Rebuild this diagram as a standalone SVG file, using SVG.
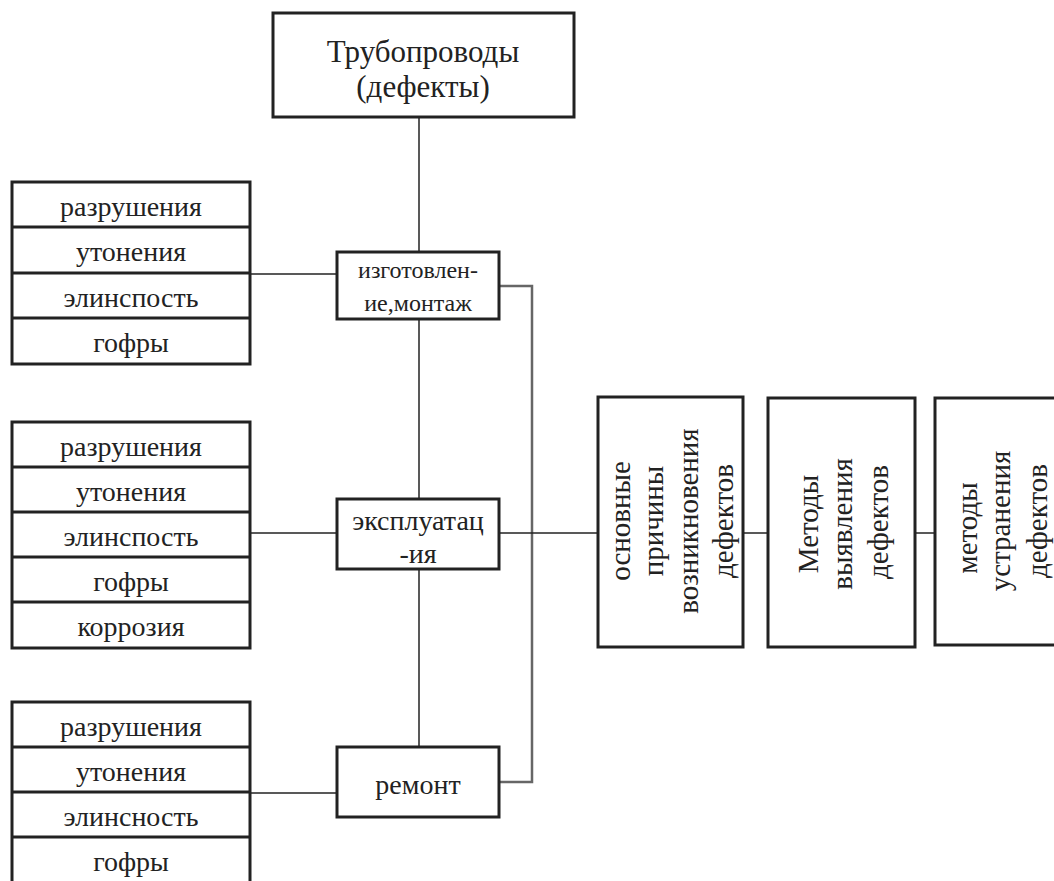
<svg xmlns="http://www.w3.org/2000/svg" width="1054" height="881" viewBox="0 0 1054 881">
<style>
.box{fill:#fff;stroke:#222;stroke-width:3}
.row{stroke:#222;stroke-width:3;fill:none}
.ln{stroke:#222;stroke-width:1.5;fill:none}
.gl{stroke:#666;stroke-width:2.5;fill:none}
text{font-family:"Liberation Serif","DejaVu Serif",serif;fill:#222;text-anchor:middle}
.t28{font-size:28px}
.t24{font-size:24px}
.t32{font-size:31px}
.v{font-size:29px}
</style>
<rect width="1054" height="881" fill="#fff"/>
<g id="connectors">
<line class="ln" x1="419" y1="117" x2="419" y2="252"/>
<line class="ln" x1="419" y1="319" x2="419" y2="499"/>
<line class="ln" x1="419" y1="569" x2="419" y2="747"/>
<line class="ln" x1="250" y1="274" x2="337" y2="274"/>
<line class="ln" x1="250" y1="533" x2="337" y2="533"/>
<line class="ln" x1="250" y1="793" x2="337" y2="793"/>
<polyline class="gl" points="499,286 532,286 532,782 499,782"/>
<line class="ln" x1="499" y1="533" x2="598" y2="533"/>
<line class="ln" x1="743" y1="533" x2="768" y2="533"/>
<line class="ln" x1="915" y1="533" x2="935" y2="533"/>
</g>
<g id="top">
<rect class="box" x="273" y="13" width="301" height="104"/>
<text class="t32" x="423" y="62">Трубопроводы</text>
<text class="t32" x="423" y="97">(дефекты)</text>
</g>
<g id="list1">
<rect class="box" x="12" y="182" width="238" height="182"/>
<path class="row" d="M12 227H250M12 273H250M12 318H250"/>
<text class="t28" x="131" y="216">разрушения</text>
<text class="t28" x="131" y="261">утонения</text>
<text class="t28" x="131" y="307">элинспость</text>
<text class="t28" x="131" y="352">гофры</text>
</g>
<g id="list2">
<rect class="box" x="12" y="422" width="238" height="226"/>
<path class="row" d="M12 467H250M12 512H250M12 557H250M12 602H250"/>
<text class="t28" x="131" y="456">разрушения</text>
<text class="t28" x="131" y="501">утонения</text>
<text class="t28" x="131" y="546">элинспость</text>
<text class="t28" x="131" y="591">гофры</text>
<text class="t28" x="131" y="636">коррозия</text>
</g>
<g id="list3">
<rect class="box" x="12" y="702" width="238" height="190"/>
<path class="row" d="M12 747H250M12 792H250M12 837H250"/>
<text class="t28" x="131" y="736">разрушения</text>
<text class="t28" x="131" y="781">утонения</text>
<text class="t28" x="131" y="826">элинсность</text>
<text class="t28" x="131" y="871">гофры</text>
</g>
<g id="manufacture">
<rect class="box" x="337" y="252" width="162" height="67"/>
<text class="t24" x="418" y="278">изготовлен-</text>
<text class="t24" x="418" y="311">ие,монтаж</text>
</g>
<g id="operation">
<rect class="box" x="337" y="499" width="162" height="70"/>
<text class="t28" x="418" y="530">эксплуатац</text>
<text class="t28" x="418" y="563">-ия</text>
</g>
<g id="repair">
<rect class="box" x="337" y="747" width="162" height="70"/>
<text class="t28" x="418" y="794">ремонт</text>
</g>
<g id="causes">
<rect class="box" x="598" y="397" width="145" height="250"/>
<text class="v" x="630" y="521" transform="rotate(-90 630 521)">основные</text>
<text class="v" x="663" y="521" transform="rotate(-90 663 521)">причины</text>
<text class="v" x="698" y="521" transform="rotate(-90 698 521)">возникновения</text>
<text class="v" x="733" y="521" transform="rotate(-90 733 521)">дефектов</text>
</g>
<g id="detection">
<rect class="box" x="768" y="398" width="147" height="249"/>
<text class="v" x="818" y="524" transform="rotate(-90 818 524)">Методы</text>
<text class="v" x="852" y="524" transform="rotate(-90 852 524)">выявления</text>
<text class="v" x="888" y="522" transform="rotate(-90 888 522)">дефектов</text>
</g>
<g id="elimination">
<rect class="box" x="935" y="398" width="130" height="247"/>
<text class="v" x="977" y="528" transform="rotate(-90 977 528)">методы</text>
<text class="v" x="1010" y="521" transform="rotate(-90 1010 521)">устранения</text>
<text class="v" x="1047" y="521" transform="rotate(-90 1047 521)">дефектов</text>
</g>
</svg>
